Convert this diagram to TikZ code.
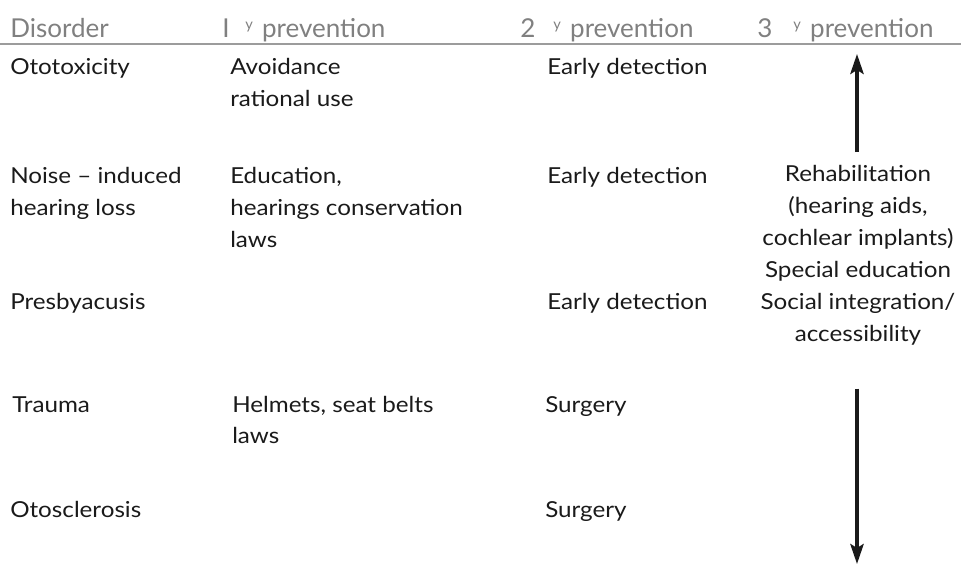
\documentclass[tikz,border=0pt]{standalone}
\usepackage{fontspec}
\setmainfont[FakeStretch=1.1]{Lato}
\newfontfamily\headfont{Lato}
\usetikzlibrary{arrows.meta,positioning}
\definecolor{Ink}{HTML}{1A1A1A}
\definecolor{HeadGray}{HTML}{808080}
\definecolor{RuleGray}{HTML}{9C9C9C}
\tikzset{
  cell/.style={
    anchor=base west, inner sep=0pt, text=Ink, align=left,
    font=\fontsize{16.5}{24}\selectfont
  },
  rehabcell/.style={cell, anchor=base, align=center},
  head/.style={
    anchor=base west, inner sep=0pt, text=HeadGray,
    font=\headfont\fontsize{19.5}{22}\selectfont
  },
  timeline/.style={-{Stealth[length=15pt,width=10pt,inset=3pt]}, line width=2.6pt, draw=Ink}
}

\begin{document}
\begin{tikzpicture}[x=0.75pt,y=-0.75pt]
    \useasboundingbox (0,0) rectangle (961,570);
    % column heads
    \node[head] (hdis) at (10,38) {Disorder};
    \node[head] (hone) at (222,38) {I};
    \node[head] (honetxt) at (245,38) {\raisebox{6pt}{\fontsize{11}{11}\selectfont y}\hspace{7pt}prevention};
    \node[head] (htwo) at (520,38) {2};
    \node[head] (htwotxt) at (553,38) {\raisebox{6pt}{\fontsize{11}{11}\selectfont y}\hspace{7pt}prevention};
    \node[head] (hthree) at (757,38) {3};
    \node[head] (hthreetxt) at (793,38) {\raisebox{6pt}{\fontsize{11}{11}\selectfont y}\hspace{7pt}prevention};
    \draw[RuleGray,line width=1.1pt] (0,44) -- (961,44);
    % rows (a block node sits on the baseline of its last line)
    \node[cell] (oto) at (10,75) {Ototoxicity};
    \node[cell] (otoprim) at (230,107) {Avoidance\\rational use};
    \node[cell] (otosec) at (547,75) {Early detection};
    \node[cell] (noise) at (10,216) {Noise -- induced\\hearing loss};
    \node[cell] (noiseprim) at (230,248) {Education,\\hearings conservation\\laws};
    \node[cell] (noisesec) at (547,184) {Early detection};
    \node[rehabcell] (rehab) at (858,342) {Rehabilitation\\(hearing aids,\\cochlear implants)\\Special education\\Social integration/\\accessibility};
    \node[cell] (presby) at (10,310) {Presbyacusis};
    \node[cell] (presbysec) at (547,310) {Early detection};
    \node[cell] (trauma) at (12,412) {Trauma};
    \node[cell] (traumaprim) at (232,444) {Helmets, seat belts\\laws};
    \node[cell] (traumasec) at (545,412) {Surgery};
    \node[cell] (scler) at (10,517) {Otosclerosis};
    \node[cell] (sclersec) at (545,517) {Surgery};
    % tertiary arrows
    \coordinate (uptip) at (857,54);
    \coordinate (downtip) at (857,564);
    \draw[timeline] ([yshift=10pt]rehab.north -| uptip) -- (uptip);
    \draw[timeline] ([yshift=-32pt]rehab.south -| downtip) -- (downtip);
  \end{tikzpicture}
\end{document}
